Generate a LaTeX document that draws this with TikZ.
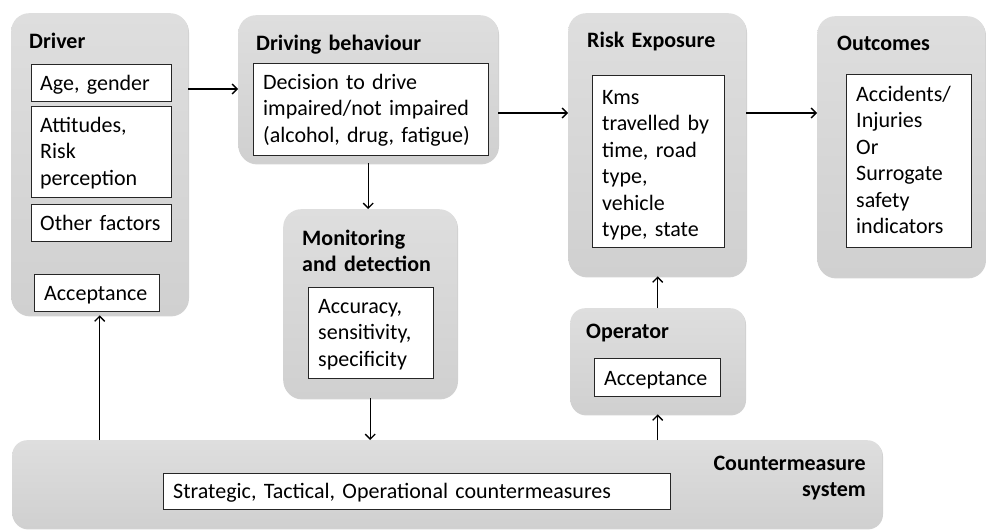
\documentclass[tikz,border=0pt]{standalone}
\usepackage{fontspec}
\setmainfont[WordSpace=0.85]{Carlito}
\usetikzlibrary{arrows.meta,shadows}
\definecolor{paneltop}{RGB}{222,222,222}
\definecolor{panelbot}{RGB}{208,208,208}
\begin{document}
\begin{tikzpicture}[x=1pt,y=-1pt,
  panel/.style={draw=none, rounded corners=18pt, top color=paneltop, bottom color=panelbot,
    drop shadow={shadow xshift=0.8pt, shadow yshift=-1.2pt, opacity=0.18, fill=black},
    anchor=north west, inner sep=0pt},
  field/.style={draw=black!85, line width=1pt, fill=white, anchor=north west, inner sep=0pt},
  lbl/.style={anchor=base west, inner sep=0pt, text width=260pt, align=left,
    font=\fontsize{22}{26.5}\selectfont},
  ttl/.style={lbl, font=\fontsize{22}{26.5}\selectfont\bfseries},
  arr/.style={line width=1.3pt, -{Straight Barb[length=5pt,width=10pt]}}]
\useasboundingbox (0,0) rectangle (986,530);

% ---------- Driver ----------
\node[panel, minimum width=177pt, minimum height=302pt] (driver) at (11,13) {};
\node[ttl] (driverT) at (29,48) {Driver};
\node[field, minimum width=140pt, minimum height=37pt] (age) at (31,64) {};
\node[lbl] (ageT) at (40,90) {Age, gender};
\node[field, minimum width=140pt, minimum height=91pt] (att) at (31,106) {};
\node[lbl] (attT) at (40,132) {Attitudes,\\Risk\\perception};
\node[field, minimum width=140pt, minimum height=37pt] (oth) at (31,204) {};
\node[lbl] (othT) at (40,230) {Other factors};
\node[field, minimum width=125pt, minimum height=37pt] (dacc) at (34,274) {};
\node[lbl] (daccT) at (44,300) {Acceptance};

% ---------- Driving behaviour ----------
\node[panel, minimum width=260pt, minimum height=148pt] (drv) at (238,15) {};
\node[ttl] (drvT) at (256,50) {Driving behaviour};
\node[field, minimum width=235pt, minimum height=92pt] (dec) at (253,63) {};
\node[lbl] (decT) at (263,89) {Decision to drive\\impaired/not impaired\\(alcohol, drug, fatigue)};

% ---------- Monitoring and detection ----------
\node[panel, minimum width=174pt, minimum height=189pt] (mon) at (283,209) {};
\node[ttl] (monT) at (302,245) {Monitoring\\and detection};
\node[field, minimum width=125pt, minimum height=91pt] (acc) at (308,287) {};
\node[lbl] (accT) at (318,313) {Accuracy,\\sensitivity,\\specificity};

% ---------- Risk Exposure ----------
\node[panel, minimum width=178pt, minimum height=263pt] (risk) at (568,13) {};
\node[ttl] (riskT) at (587,47) {Risk Exposure};
\node[field, minimum width=132pt, minimum height=172pt] (kms) at (592,75) {};
\node[lbl] (kmsT) at (602,104) {Kms\\travelled by\\time, road\\type,\\vehicle\\type, state};

% ---------- Outcomes ----------
\node[panel, minimum width=168pt, minimum height=261pt] (out) at (817,16) {};
\node[ttl] (outT) at (837,50) {Outcomes};
\node[field, minimum width=125pt, minimum height=173pt] (inj) at (846,74) {};
\node[lbl] (injT) at (856,101) {Accidents/\\Injuries\\Or\\Surrogate\\safety\\indicators};

% ---------- Operator ----------
\node[panel, rounded corners=15pt, minimum width=175pt, minimum height=106pt] (op) at (570,308) {};
\node[ttl] (opT) at (586,338) {Operator};
\node[field, minimum width=126pt, minimum height=38pt] (oacc) at (594,358) {};
\node[lbl] (oaccT) at (604,385) {Acceptance};

% ---------- Countermeasure system ----------
\node[panel, rounded corners=15pt, minimum width=870pt, minimum height=88pt] (cm) at (12,440) {};
\node[ttl, anchor=base east, text width=220pt, align=right] (cmT) at (866,470) {Countermeasure\\system};
\node[field, minimum width=507pt, minimum height=36pt] (stc) at (163,473) {};
\node[lbl, text width=490pt] (stcT) at (173,498) {Strategic, Tactical, Operational countermeasures};

% ---------- Connectors ----------
\coordinate (rowA) at (0,89);
\coordinate (rowB) at (0,113);
\draw[arr] (driver.east |- rowA) -- (drv.west |- rowA);
\draw[arr] (drv.east |- rowB) -- (risk.west |- rowB);
\draw[arr] (risk.east |- rowB) -- (out.west |- rowB);
\draw[arr] (drv.south) -- (drv.south |- mon.north);
\draw[arr] (mon.south) -- (mon.south |- cm.north);
\draw[arr] (cm.north -| driver.south) -- (driver.south);
\draw[arr] (cm.north -| op.south) -- (op.south);
\draw[arr] (op.north) -- (op.north |- risk.south);
\end{tikzpicture}
\end{document}
